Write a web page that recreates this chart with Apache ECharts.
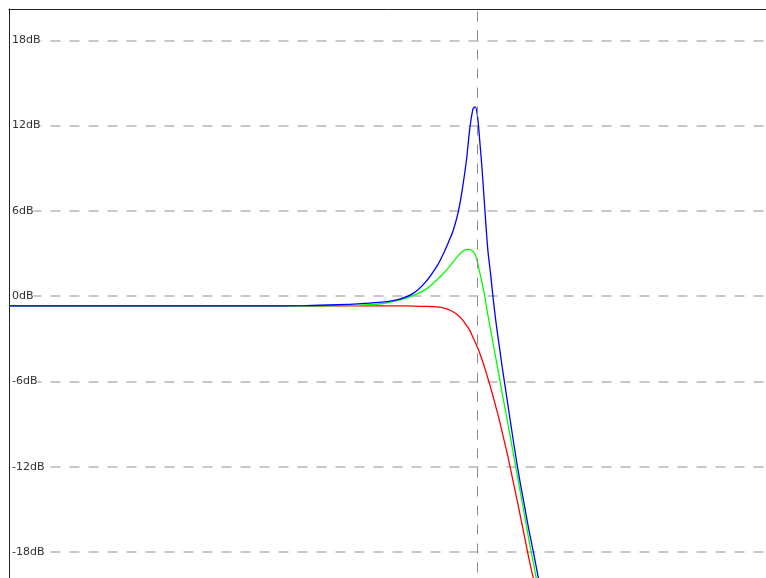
<!DOCTYPE html>
<html>
<head>
<meta charset="utf-8">
<script src="https://cdn.jsdelivr.net/npm/echarts@6/dist/echarts.min.js"></script>
<style>
  html, body { margin: 0; padding: 0; background: #fff; overflow: hidden; }
  /* the plot runs on below the visible window */
  #chart { width: 766px; height: 640px; }
</style>
</head>
<body>
<div id="chart"></div>
<script>
// Frequency points (Hz) at which the responses are sampled
const freqHz = [20, 50, 100, 200, 300, 400, 500, 600, 700, 800, 900, 1000, 1050, 1100, 1150,
  1200, 1250, 1300, 1340, 1380, 1410, 1440, 1470, 1500, 1540, 1580, 1620, 1660, 1700, 1750,
  1800, 1900, 2000, 2100, 2200, 2300, 2400, 2500, 2600, 2800];

// Magnitude response (dB) for three resonance settings
const gainLowRes = [-0.68, -0.68, -0.68, -0.68, -0.68, -0.68, -0.68, -0.68, -0.68, -0.69, -0.71, -0.75, -0.82, -0.93, -1.09,
  -1.32, -1.63, -2.05, -2.40, -2.90, -3.25, -3.64, -4.04, -4.49, -5.10, -5.76, -6.41, -7.09, -7.78, -8.62,
  -9.54, -11.32, -13.20, -14.99, -16.77, -18.47, -19.95, -21.4, -22.9, -25.6];

const gainMidRes = [-0.68, -0.68, -0.68, -0.68, -0.68, -0.66, -0.62, -0.53, -0.28, 0.05, 0.5, 1.2, 1.58, 1.98, 2.4,
  2.8, 3.12, 3.3, 3.29, 3.14, 2.9, 2.34, 1.6, 0.9, -0.12, -1.30, -2.34, -3.38, -4.37, -5.56,
  -6.79, -9.01, -11.2, -13.27, -15.24, -17.17, -18.86, -20.55, -22.2, -25.3];

const gainHighRes = [-0.68, -0.68, -0.68, -0.68, -0.66, -0.6, -0.52, -0.42, -0.22, 0.2, 1.04, 2.2, 2.94, 3.75, 4.59,
  5.75, 7.45, 9.58, 11.77, 13.17, 13.31, 12.54, 10.78, 8.88, 5.93, 3.26, 1.57, -0.21, -1.77, -3.39,
  -4.94, -7.71, -10.32, -12.64, -14.6, -16.47, -18.09, -19.74, -21.3, -24.4];

// Gain grid lines and the cutoff marker
const dbTicks = [-18, -12, -6, 0, 6, 12, 18];
const cutoffHz = 1430;
const freqRange = [20, 20000];
const dbRange = [-24, 20.2];

const pairs = (vals) => freqHz.map((f, i) => [f, vals[i]]);

const chart = echarts.init(document.getElementById('chart'), null, { renderer: 'canvas' });

const lineSeries = (name, color, vals) => ({
  name,
  type: 'line',
  data: pairs(vals),
  showSymbol: false,
  smooth: 0.3,
  lineStyle: { color, width: 1.3 },
  itemStyle: { color },
  animation: false,
  silent: true
});

chart.setOption({
  backgroundColor: '#fff',
  animation: false,
  grid: { left: 9, top: 9, right: 0, height: 628.5, containLabel: false },
  xAxis: {
    type: 'log',
    logBase: 10,
    min: freqRange[0],
    max: freqRange[1],
    position: 'top',
    axisLine: { show: true, onZero: false, lineStyle: { color: '#222', width: 1 } },
    axisTick: { show: false },
    axisLabel: { show: false },
    splitLine: { show: false }
  },
  yAxis: {
    type: 'value',
    min: dbRange[0],
    max: dbRange[1],
    interval: 6,
    axisLine: { show: true, onZero: false, lineStyle: { color: '#222', width: 1 } },
    axisTick: { show: false },
    axisLabel: {
      inside: true,
      margin: 3,
      showMaxLabel: false,
      showMinLabel: false,
      color: '#333',
      fontFamily: 'DejaVu Sans',
      fontSize: 11,
      verticalAlign: 'middle',
      backgroundColor: '#fff',
      padding: [0, 0, 7, 0],
      formatter: (v) => (dbTicks.includes(v) ? v + 'dB' : '')
    },
    splitLine: {
      show: true,
      showMaxLine: false,
      lineStyle: { color: '#c8c8c8', width: 2, type: [10, 9], dashOffset: 15.5 }
    }
  },
  series: [
    lineSeries('low', '#ff0000', gainLowRes),
    lineSeries('mid', '#00ff00', gainMidRes),
    Object.assign(lineSeries('high', '#0000ff', gainHighRes), {
      markLine: {
        silent: true,
        symbol: 'none',
        label: { show: false },
        animation: false,
        lineStyle: { color: '#8a8a8a', width: 1, type: [10, 9], dashOffset: 16.5 },
        data: [[{ coord: [cutoffHz, dbRange[1]] }, { coord: [cutoffHz, dbRange[0]] }]]
      }
    })
  ]
});
</script>
</body>
</html>
